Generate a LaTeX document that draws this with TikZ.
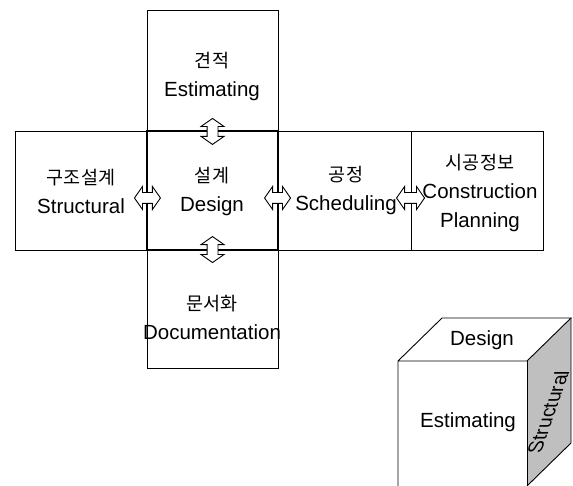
\documentclass[tikz,border=0pt]{standalone}
\usepackage{fontspec}
\setmainfont{Liberation Sans}
\newfontfamily\krfont{Noto Sans CJK KR}
\usetikzlibrary{shapes.arrows}
\newcommand{\K}[1]{{\krfont\fontsize{18.5}{18.5}\selectfont #1}}
\begin{document}
\begin{tikzpicture}[x=1pt,y=-1pt,
  box/.style={draw, line width=0.9pt, inner sep=0pt},
  mainbox/.style={draw, line width=1.6pt, inner sep=0pt},
  lbl/.style={align=center, font=\fontsize{20.5}{29}\selectfont, inner sep=0pt},
  darr/.style={double arrow, draw, fill=white, line width=0.9pt, inner sep=5pt,
    double arrow head extend=6pt, double arrow tip angle=110, minimum height=26pt}]
\useasboundingbox (0,0) rectangle (573,486);
% boxes
\node[box, minimum width=131pt, minimum height=121pt] (est) at (212.5,70.5) {};
\node[box, minimum width=132pt, minimum height=119pt] (str) at (81,190.5) {};
\node[box, minimum width=133pt, minimum height=119pt] (sch) at (344.5,190.5) {};
\node[box, minimum width=132pt, minimum height=119pt] (con) at (477,190.5) {};
\node[box, minimum width=131pt, minimum height=118pt] (doc) at (212.5,309) {};
\node[mainbox, minimum width=131pt, minimum height=119pt] (des) at (212.5,190.5) {};
% labels
\node[lbl] (estT) at (212,76) {\K{견적}\\Estimating};
\node[lbl] (strT) at (81,191) {\K{구조설계}\\Structural};
\node[lbl] (desT) at (212,191) {\K{설계}\\Design};
\node[lbl] (schT) at (346,190) {\K{공정}\\Scheduling};
\node[lbl] (conT) at (480,193) {\K{시공정보}\\Construction\\Planning};
\node[lbl] (docT) at (212,317) {\K{문서화}\\Documentation};
% connectors
\node[darr, rotate=90] (a1) at (est.south) {};
\node[darr] (a2) at (str.east |- 0,198) {};
\node[darr] (a3) at (sch.west |- 0,198) {};
\node[darr, minimum height=28pt] (a4) at (con.west |- 0,198) {};
\node[darr, rotate=90] (a5) at (doc.north) {};
% cube
\fill[black!25] (527,361) -- (571,318) -- (571,443) -- (527,486) -- cycle;
\draw[line width=0.9pt] (398,486) -- (398,361) -- (442,318) -- (571,318) -- (527,361) -- (398,361);
\draw[line width=0.9pt] (527,361) -- (527,486);
\draw[line width=0.9pt] (571,318) -- (571,443) -- (527,486);
\node[lbl] (cubeD) at (482,340) {Design};
\node[lbl] (cubeE) at (468,422) {Estimating};
\node[lbl, cm={0.33,0.94,-1,0,(0,0)}] (cubeS) at (548,412) {Structural};
\end{tikzpicture}
\end{document}
